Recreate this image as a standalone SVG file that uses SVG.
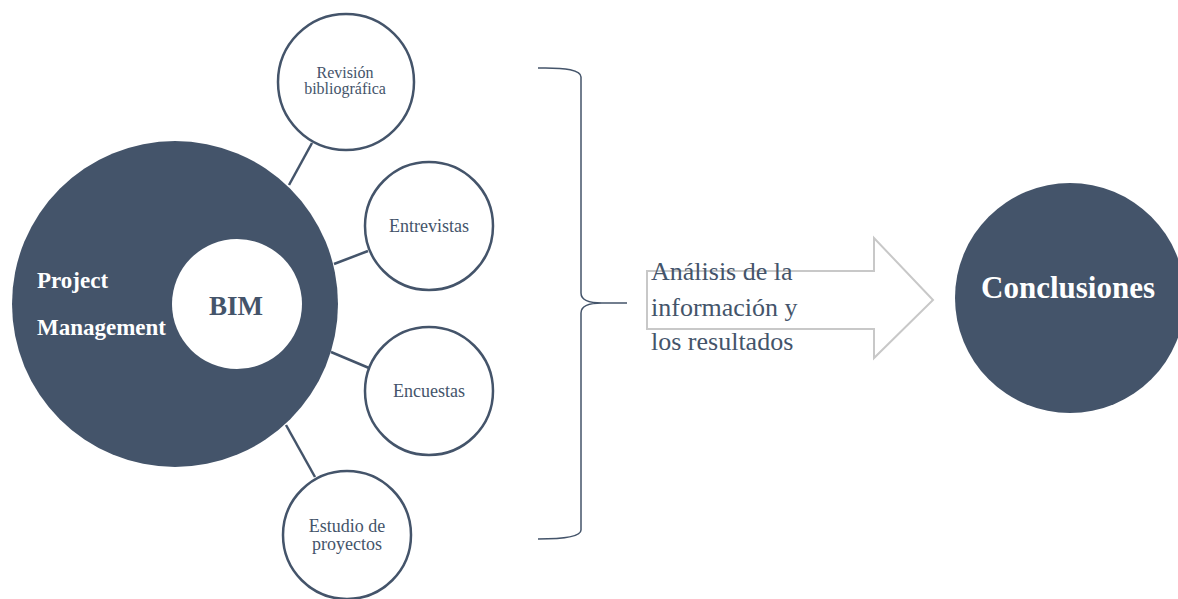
<svg xmlns="http://www.w3.org/2000/svg" width="1178" height="599" viewBox="0 0 1178 599">
<style>
.dark{fill:#44546a}
.ring{fill:#ffffff;stroke:#44546a;stroke-width:2.5}
.conn{stroke:#44546a;stroke-width:2.5;fill:none}
.t{font-family:"Liberation Serif","Times New Roman",serif}
.nt{fill:#44546a;text-anchor:middle}
.wb{fill:#ffffff;font-weight:bold}
</style>
<rect width="1178" height="599" fill="#ffffff"/>
<g id="connectors">
<line class="conn" x1="312" y1="143" x2="289" y2="185"/>
<line class="conn" x1="368" y1="251" x2="334" y2="264"/>
<line class="conn" x1="331" y1="352" x2="369" y2="368"/>
<line class="conn" x1="286" y1="425" x2="315" y2="477"/>
</g>
<g id="project-management">
<circle class="dark" cx="175" cy="304" r="163"/>
<text class="t wb" x="37" y="288" font-size="23">Project</text>
<text class="t wb" x="37" y="335" font-size="23">Management</text>
</g>
<g id="bim">
<circle cx="237" cy="304" r="65" fill="#ffffff"/>
<text class="t" x="236" y="315" font-size="27" font-weight="bold" fill="#44546a" text-anchor="middle">BIM</text>
</g>
<g id="revision">
<circle class="ring" cx="346" cy="82" r="68"/>
<text class="t nt" x="345" y="78" font-size="16">Revisión</text>
<text class="t nt" x="345" y="94" font-size="16">bibliográfica</text>
</g>
<g id="entrevistas">
<circle class="ring" cx="429" cy="226" r="64"/>
<text class="t nt" x="429" y="232" font-size="18">Entrevistas</text>
</g>
<g id="encuestas">
<circle class="ring" cx="429" cy="391" r="64"/>
<text class="t nt" x="429" y="397" font-size="18">Encuestas</text>
</g>
<g id="estudio">
<circle class="ring" cx="347" cy="535" r="64"/>
<text class="t nt" x="347" y="532" font-size="18">Estudio de</text>
<text class="t nt" x="347" y="550" font-size="18">proyectos</text>
</g>
<g id="brace">
<path d="M538,68 Q581,67 581,77 L581,293 Q581,303 602,303 L627,303 M602,303 Q581,303 581,313 L581,530 Q581,539 538,539" fill="none" stroke="#44546a" stroke-width="1.5"/>
</g>
<g id="analisis">
<polygon points="647,271 874,271 874,238 933,300 874,358 874,329 647,329" fill="none" stroke="#c8c8c8" stroke-width="2"/>
<text class="t" x="651" y="280" font-size="26" fill="#44546a">Análisis de la</text>
<text class="t" x="651" y="316" font-size="26" fill="#44546a">información y</text>
<text class="t" x="651" y="350" font-size="26" fill="#44546a">los resultados</text>
</g>
<g id="conclusiones">
<circle class="dark" cx="1070" cy="298" r="115"/>
<text class="t wb" x="1068" y="298" font-size="31" text-anchor="middle">Conclusiones</text>
</g>
</svg>
